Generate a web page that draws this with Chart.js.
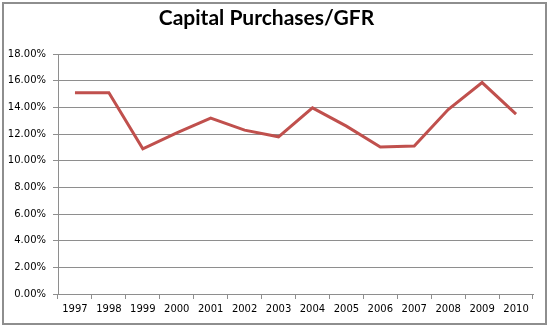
<!DOCTYPE html>
<html>
<head>
<meta charset="utf-8">
<script src="https://cdn.jsdelivr.net/npm/chart.js@4"></script>
<style>
  html, body { margin: 0; padding: 0; background: #fff; }
  #frame { position: absolute; left: 2px; top: 2px; width: 541px; height: 319px; border: 2px solid #8e8e8e; }
  #wrap { position: absolute; left: 0; top: 0; width: 550px; height: 328px; }
</style>
</head>
<body>
<div id="frame"></div>
<div id="wrap"><canvas id="myChart" width="550" height="328"></canvas></div>
<script>
// Capital Purchases / GFR by year (percent)
var years = ["1997", "1998", "1999", "2000", "2001", "2002", "2003", "2004", "2005", "2006", "2007", "2008", "2009", "2010"];
var ratio = [15.1, 15.1, 10.9, 12.1, 13.2, 12.3, 11.8, 13.97, 12.6, 11.03, 11.1, 13.85, 15.87, 13.5];
var yTicks = [0, 2, 4, 6, 8, 10, 12, 14, 16, 18];

var lineColor = "#c0504d";
var gridColor = "#8e8e8e";
var tickFont = { family: "DejaVu Sans", size: 10 };

new Chart("myChart", {
  type: "line",
  data: {
    labels: years,
    datasets: [{
      data: ratio,
      borderColor: lineColor,
      borderWidth: 3,
      pointRadius: 0,
      tension: 0,
      fill: false
    }]
  },
  options: {
    responsive: false,
    animation: false,
    layout: { padding: { left: 0, right: 17, top: 0, bottom: 0 } },
    plugins: {
      legend: { display: false },
      tooltip: { enabled: false },
      title: {
        display: true,
        text: "Capital Purchases/GFR",
        color: "#000",
        font: { family: "Lato", size: 21, weight: "bold" },
        padding: { top: 6, bottom: 23 }
      }
    },
    scales: {
      x: {
        offset: true,
        afterFit: function (scale) { scale.height = 34; },
        grid: {
          offset: true,
          drawOnChartArea: false,
          drawTicks: true,
          tickLength: 5,
          color: gridColor
        },
        border: { color: gridColor, width: 1 },
        ticks: { color: "#000", font: tickFont, padding: 4, maxRotation: 0, autoSkip: false }
      },
      y: {
        min: 0,
        max: 18,
        afterFit: function (scale) { scale.width = 58; },
        afterBuildTicks: function (scale) {
          scale.ticks = yTicks.map(function (v) { return { value: v }; });
        },
        grid: { color: gridColor, tickLength: 5, lineWidth: 1 },
        border: { color: gridColor, width: 1 },
        ticks: {
          color: "#000",
          font: tickFont,
          padding: 7,
          callback: function (v) { return v.toFixed(2) + "%"; }
        }
      }
    }
  }
});
</script>
</body>
</html>
